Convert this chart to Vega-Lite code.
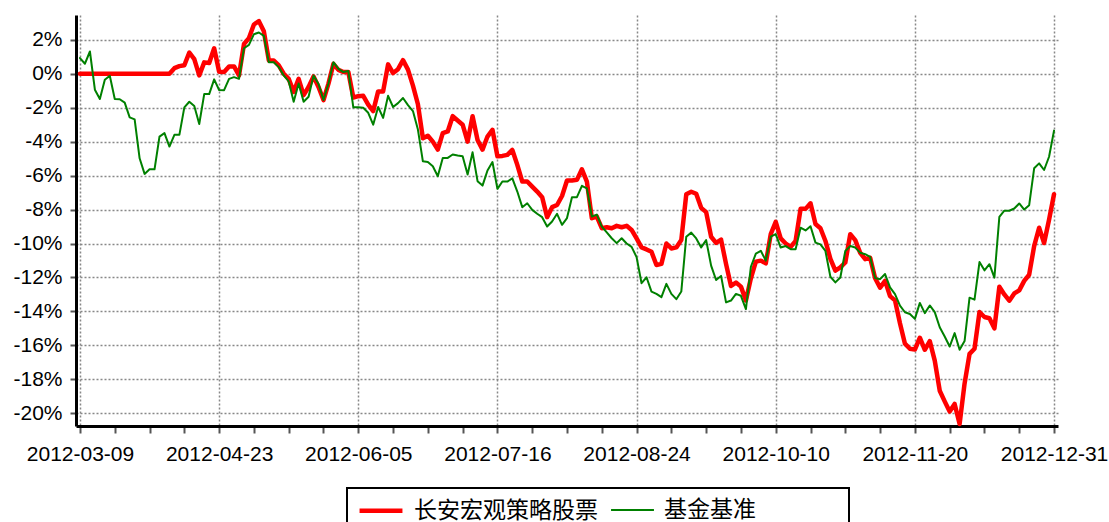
{
  "$schema": "https://vega.github.io/schema/vega-lite/v6.json",
  "width": 982,
  "height": 411,
  "autosize": "none",
  "padding": {"left": 76, "top": 15, "right": 51, "bottom": 96},
  "background": "white",
  "config": {"view": {"stroke": null}, "font": "Liberation Sans"},
  "data": {"values": [
    {"date":"2012-03-09","series":"长安宏观策略股票","value":0},
    {"date":"2012-03-12","series":"长安宏观策略股票","value":0},
    {"date":"2012-03-13","series":"长安宏观策略股票","value":0},
    {"date":"2012-03-14","series":"长安宏观策略股票","value":0},
    {"date":"2012-03-15","series":"长安宏观策略股票","value":0},
    {"date":"2012-03-16","series":"长安宏观策略股票","value":0},
    {"date":"2012-03-19","series":"长安宏观策略股票","value":0},
    {"date":"2012-03-20","series":"长安宏观策略股票","value":0},
    {"date":"2012-03-21","series":"长安宏观策略股票","value":0},
    {"date":"2012-03-22","series":"长安宏观策略股票","value":0},
    {"date":"2012-03-23","series":"长安宏观策略股票","value":0},
    {"date":"2012-03-26","series":"长安宏观策略股票","value":0},
    {"date":"2012-03-27","series":"长安宏观策略股票","value":0},
    {"date":"2012-03-28","series":"长安宏观策略股票","value":0},
    {"date":"2012-03-29","series":"长安宏观策略股票","value":0},
    {"date":"2012-03-30","series":"长安宏观策略股票","value":0},
    {"date":"2012-04-05","series":"长安宏观策略股票","value":0},
    {"date":"2012-04-06","series":"长安宏观策略股票","value":0},
    {"date":"2012-04-09","series":"长安宏观策略股票","value":0},
    {"date":"2012-04-10","series":"长安宏观策略股票","value":0.33},
    {"date":"2012-04-11","series":"长安宏观策略股票","value":0.45},
    {"date":"2012-04-12","series":"长安宏观策略股票","value":0.5},
    {"date":"2012-04-13","series":"长安宏观策略股票","value":1.25},
    {"date":"2012-04-16","series":"长安宏观策略股票","value":0.86},
    {"date":"2012-04-17","series":"长安宏观策略股票","value":-0.1},
    {"date":"2012-04-18","series":"长安宏观策略股票","value":0.67},
    {"date":"2012-04-19","series":"长安宏观策略股票","value":0.63},
    {"date":"2012-04-20","series":"长安宏观策略股票","value":1.5},
    {"date":"2012-04-23","series":"长安宏观策略股票","value":0.12},
    {"date":"2012-04-24","series":"长安宏观策略股票","value":0.1},
    {"date":"2012-04-25","series":"长安宏观策略股票","value":0.43},
    {"date":"2012-04-26","series":"长安宏观策略股票","value":0.43},
    {"date":"2012-04-27","series":"长安宏观策略股票","value":-0.1},
    {"date":"2012-05-02","series":"长安宏观策略股票","value":1.75},
    {"date":"2012-05-03","series":"长安宏观策略股票","value":2.1},
    {"date":"2012-05-04","series":"长安宏观策略股票","value":2.9},
    {"date":"2012-05-07","series":"长安宏观策略股票","value":3.1},
    {"date":"2012-05-08","series":"长安宏观策略股票","value":2.5},
    {"date":"2012-05-09","series":"长安宏观策略股票","value":0.78},
    {"date":"2012-05-10","series":"长安宏观策略股票","value":0.78},
    {"date":"2012-05-11","series":"长安宏观策略股票","value":0.49},
    {"date":"2012-05-14","series":"长安宏观策略股票","value":0},
    {"date":"2012-05-15","series":"长安宏观策略股票","value":-0.3},
    {"date":"2012-05-16","series":"长安宏观策略股票","value":-1.07},
    {"date":"2012-05-17","series":"长安宏观策略股票","value":-0.3},
    {"date":"2012-05-18","series":"长安宏观策略股票","value":-1.26},
    {"date":"2012-05-21","series":"长安宏观策略股票","value":-0.78},
    {"date":"2012-05-22","series":"长安宏观策略股票","value":-0.16},
    {"date":"2012-05-23","series":"长安宏观策略股票","value":-0.78},
    {"date":"2012-05-24","series":"长安宏观策略股票","value":-1.55},
    {"date":"2012-05-25","series":"长安宏观策略股票","value":-0.58},
    {"date":"2012-05-28","series":"长安宏观策略股票","value":0.58},
    {"date":"2012-05-29","series":"长安宏观策略股票","value":0.23},
    {"date":"2012-05-30","series":"长安宏观策略股票","value":0.1},
    {"date":"2012-05-31","series":"长安宏观策略股票","value":0.1},
    {"date":"2012-06-01","series":"长安宏观策略股票","value":-1.4},
    {"date":"2012-06-05","series":"长安宏观策略股票","value":-1.32},
    {"date":"2012-06-06","series":"长安宏观策略股票","value":-1.3},
    {"date":"2012-06-07","series":"长安宏观策略股票","value":-1.82},
    {"date":"2012-06-08","series":"长安宏观策略股票","value":-2.2},
    {"date":"2012-06-11","series":"长安宏观策略股票","value":-1.04},
    {"date":"2012-06-12","series":"长安宏观策略股票","value":-1.04},
    {"date":"2012-06-13","series":"长安宏观策略股票","value":0.55},
    {"date":"2012-06-14","series":"长安宏观策略股票","value":0.04},
    {"date":"2012-06-15","series":"长安宏观策略股票","value":0.27},
    {"date":"2012-06-18","series":"长安宏观策略股票","value":0.8},
    {"date":"2012-06-19","series":"长安宏观策略股票","value":0.24},
    {"date":"2012-06-20","series":"长安宏观策略股票","value":-0.7},
    {"date":"2012-06-21","series":"长安宏观策略股票","value":-1.8},
    {"date":"2012-06-25","series":"长安宏观策略股票","value":-3.8},
    {"date":"2012-06-26","series":"长安宏观策略股票","value":-3.65},
    {"date":"2012-06-27","series":"长安宏观策略股票","value":-4.0},
    {"date":"2012-06-28","series":"长安宏观策略股票","value":-4.47},
    {"date":"2012-06-29","series":"长安宏观策略股票","value":-3.5},
    {"date":"2012-07-02","series":"长安宏观策略股票","value":-3.4},
    {"date":"2012-07-03","series":"长安宏观策略股票","value":-2.5},
    {"date":"2012-07-04","series":"长安宏观策略股票","value":-2.75},
    {"date":"2012-07-05","series":"长安宏观策略股票","value":-3.0},
    {"date":"2012-07-06","series":"长安宏观策略股票","value":-4.0},
    {"date":"2012-07-09","series":"长安宏观策略股票","value":-2.5},
    {"date":"2012-07-10","series":"长安宏观策略股票","value":-3.9},
    {"date":"2012-07-11","series":"长安宏观策略股票","value":-4.47},
    {"date":"2012-07-12","series":"长安宏观策略股票","value":-3.7},
    {"date":"2012-07-13","series":"长安宏观策略股票","value":-3.3},
    {"date":"2012-07-16","series":"长安宏观策略股票","value":-4.86},
    {"date":"2012-07-17","series":"长安宏观策略股票","value":-4.84},
    {"date":"2012-07-18","series":"长安宏观策略股票","value":-4.78},
    {"date":"2012-07-19","series":"长安宏观策略股票","value":-4.49},
    {"date":"2012-07-23","series":"长安宏观策略股票","value":-5.37},
    {"date":"2012-07-24","series":"长安宏观策略股票","value":-6.35},
    {"date":"2012-07-25","series":"长安宏观策略股票","value":-6.35},
    {"date":"2012-07-26","series":"长安宏观策略股票","value":-6.65},
    {"date":"2012-07-27","series":"长安宏观策略股票","value":-6.94},
    {"date":"2012-07-30","series":"长安宏观策略股票","value":-7.27},
    {"date":"2012-07-31","series":"长安宏观策略股票","value":-8.45},
    {"date":"2012-08-01","series":"长安宏观策略股票","value":-7.86},
    {"date":"2012-08-02","series":"长安宏观策略股票","value":-7.73},
    {"date":"2012-08-03","series":"长安宏观策略股票","value":-7.2},
    {"date":"2012-08-06","series":"长安宏观策略股票","value":-6.29},
    {"date":"2012-08-07","series":"长安宏观策略股票","value":-6.29},
    {"date":"2012-08-08","series":"长安宏观策略股票","value":-6.25},
    {"date":"2012-08-09","series":"长安宏观策略股票","value":-5.63},
    {"date":"2012-08-10","series":"长安宏观策略股票","value":-6.35},
    {"date":"2012-08-13","series":"长安宏观策略股票","value":-8.51},
    {"date":"2012-08-14","series":"长安宏观策略股票","value":-8.41},
    {"date":"2012-08-15","series":"长安宏观策略股票","value":-9.1},
    {"date":"2012-08-16","series":"长安宏观策略股票","value":-9.04},
    {"date":"2012-08-17","series":"长安宏观策略股票","value":-9.1},
    {"date":"2012-08-20","series":"长安宏观策略股票","value":-8.96},
    {"date":"2012-08-21","series":"长安宏观策略股票","value":-9.04},
    {"date":"2012-08-22","series":"长安宏观策略股票","value":-8.96},
    {"date":"2012-08-23","series":"长安宏观策略股票","value":-9.2},
    {"date":"2012-08-24","series":"长安宏观策略股票","value":-9.7},
    {"date":"2012-08-27","series":"长安宏观策略股票","value":-10.23},
    {"date":"2012-08-28","series":"长安宏观策略股票","value":-10.35},
    {"date":"2012-08-29","series":"长安宏观策略股票","value":-10.49},
    {"date":"2012-08-30","series":"长安宏观策略股票","value":-11.27},
    {"date":"2012-08-31","series":"长安宏观策略股票","value":-11.2},
    {"date":"2012-09-03","series":"长安宏观策略股票","value":-10.0},
    {"date":"2012-09-04","series":"长安宏观策略股票","value":-10.29},
    {"date":"2012-09-05","series":"长安宏观策略股票","value":-10.23},
    {"date":"2012-09-06","series":"长安宏观策略股票","value":-9.8},
    {"date":"2012-09-07","series":"长安宏观策略股票","value":-7.1},
    {"date":"2012-09-10","series":"长安宏观策略股票","value":-6.95},
    {"date":"2012-09-11","series":"长安宏观策略股票","value":-7.07},
    {"date":"2012-09-12","series":"长安宏观策略股票","value":-7.9},
    {"date":"2012-09-13","series":"长安宏观策略股票","value":-8.15},
    {"date":"2012-09-14","series":"长安宏观策略股票","value":-9.6},
    {"date":"2012-09-17","series":"长安宏观策略股票","value":-9.96},
    {"date":"2012-09-18","series":"长安宏观策略股票","value":-9.77},
    {"date":"2012-09-19","series":"长安宏观策略股票","value":-11.2},
    {"date":"2012-09-20","series":"长安宏观策略股票","value":-12.5},
    {"date":"2012-09-21","series":"长安宏观策略股票","value":-12.3},
    {"date":"2012-09-24","series":"长安宏观策略股票","value":-12.54},
    {"date":"2012-09-25","series":"长安宏观策略股票","value":-13.36},
    {"date":"2012-09-26","series":"长安宏观策略股票","value":-12.05},
    {"date":"2012-09-27","series":"长安宏观策略股票","value":-11.07},
    {"date":"2012-09-28","series":"长安宏观策略股票","value":-11.01},
    {"date":"2012-10-08","series":"长安宏观策略股票","value":-11.17},
    {"date":"2012-10-09","series":"长安宏观策略股票","value":-9.45},
    {"date":"2012-10-10","series":"长安宏观策略股票","value":-8.73},
    {"date":"2012-10-12","series":"长安宏观策略股票","value":-9.7},
    {"date":"2012-10-15","series":"长安宏观策略股票","value":-10.0},
    {"date":"2012-10-16","series":"长安宏观策略股票","value":-10.2},
    {"date":"2012-10-17","series":"长安宏观策略股票","value":-9.85},
    {"date":"2012-10-18","series":"长安宏观策略股票","value":-7.96},
    {"date":"2012-10-19","series":"长安宏观策略股票","value":-7.96},
    {"date":"2012-10-22","series":"长安宏观策略股票","value":-7.63},
    {"date":"2012-10-23","series":"长安宏观策略股票","value":-8.85},
    {"date":"2012-10-24","series":"长安宏观策略股票","value":-9.1},
    {"date":"2012-10-25","series":"长安宏观策略股票","value":-9.85},
    {"date":"2012-10-26","series":"长安宏观策略股票","value":-10.9},
    {"date":"2012-10-29","series":"长安宏观策略股票","value":-11.6},
    {"date":"2012-10-30","series":"长安宏观策略股票","value":-11.41},
    {"date":"2012-10-31","series":"长安宏观策略股票","value":-11.12},
    {"date":"2012-11-01","series":"长安宏观策略股票","value":-9.45},
    {"date":"2012-11-02","series":"长安宏观策略股票","value":-9.8},
    {"date":"2012-11-05","series":"长安宏观策略股票","value":-10.55},
    {"date":"2012-11-06","series":"长安宏观策略股票","value":-10.92},
    {"date":"2012-11-07","series":"长安宏观策略股票","value":-10.84},
    {"date":"2012-11-08","series":"长安宏观策略股票","value":-12.05},
    {"date":"2012-11-09","series":"长安宏观策略股票","value":-12.6},
    {"date":"2012-11-12","series":"长安宏观策略股票","value":-12.2},
    {"date":"2012-11-13","series":"长安宏观策略股票","value":-13.1},
    {"date":"2012-11-14","series":"长安宏观策略股票","value":-13.35},
    {"date":"2012-11-15","series":"长安宏观策略股票","value":-14.7},
    {"date":"2012-11-16","series":"长安宏观策略股票","value":-15.9},
    {"date":"2012-11-19","series":"长安宏观策略股票","value":-16.2},
    {"date":"2012-11-20","series":"长安宏观策略股票","value":-16.25},
    {"date":"2012-11-22","series":"长安宏观策略股票","value":-15.55},
    {"date":"2012-11-23","series":"长安宏观策略股票","value":-16.26},
    {"date":"2012-11-26","series":"长安宏观策略股票","value":-15.75},
    {"date":"2012-11-27","series":"长安宏观策略股票","value":-16.9},
    {"date":"2012-11-28","series":"长安宏观策略股票","value":-18.67},
    {"date":"2012-11-29","series":"长安宏观策略股票","value":-19.3},
    {"date":"2012-11-30","series":"长安宏观策略股票","value":-19.9},
    {"date":"2012-12-03","series":"长安宏观策略股票","value":-19.45},
    {"date":"2012-12-04","series":"长安宏观策略股票","value":-20.63},
    {"date":"2012-12-05","series":"长安宏观策略股票","value":-18.25},
    {"date":"2012-12-06","series":"长安宏观策略股票","value":-16.5},
    {"date":"2012-12-07","series":"长安宏观策略股票","value":-16.2},
    {"date":"2012-12-10","series":"长安宏观策略股票","value":-14.04},
    {"date":"2012-12-11","series":"长安宏观策略股票","value":-14.33},
    {"date":"2012-12-12","series":"长安宏观策略股票","value":-14.4},
    {"date":"2012-12-13","series":"长安宏观策略股票","value":-15.0},
    {"date":"2012-12-14","series":"长安宏观策略股票","value":-12.55},
    {"date":"2012-12-17","series":"长安宏观策略股票","value":-13.0},
    {"date":"2012-12-18","series":"长安宏观策略股票","value":-13.37},
    {"date":"2012-12-19","series":"长安宏观策略股票","value":-12.94},
    {"date":"2012-12-20","series":"长安宏观策略股票","value":-12.76},
    {"date":"2012-12-21","series":"长安宏观策略股票","value":-12.2},
    {"date":"2012-12-24","series":"长安宏观策略股票","value":-11.84},
    {"date":"2012-12-25","series":"长安宏观策略股票","value":-10.15},
    {"date":"2012-12-26","series":"长安宏观策略股票","value":-9.07},
    {"date":"2012-12-27","series":"长安宏观策略股票","value":-9.97},
    {"date":"2012-12-28","series":"长安宏观策略股票","value":-8.6},
    {"date":"2012-12-31","series":"长安宏观策略股票","value":-7.1},
    {"date":"2012-03-09","series":"基金基准","value":0.92},
    {"date":"2012-03-12","series":"基金基准","value":0.59},
    {"date":"2012-03-13","series":"基金基准","value":1.31},
    {"date":"2012-03-14","series":"基金基准","value":-0.94},
    {"date":"2012-03-15","series":"基金基准","value":-1.49},
    {"date":"2012-03-16","series":"基金基准","value":-0.35},
    {"date":"2012-03-19","series":"基金基准","value":-0.12},
    {"date":"2012-03-20","series":"基金基准","value":-1.49},
    {"date":"2012-03-21","series":"基金基准","value":-1.5},
    {"date":"2012-03-22","series":"基金基准","value":-1.7},
    {"date":"2012-03-23","series":"基金基准","value":-2.57},
    {"date":"2012-03-26","series":"基金基准","value":-2.69},
    {"date":"2012-03-27","series":"基金基准","value":-4.98},
    {"date":"2012-03-28","series":"基金基准","value":-5.9},
    {"date":"2012-03-29","series":"基金基准","value":-5.63},
    {"date":"2012-03-30","series":"基金基准","value":-5.63},
    {"date":"2012-04-05","series":"基金基准","value":-3.7},
    {"date":"2012-04-06","series":"基金基准","value":-3.5},
    {"date":"2012-04-09","series":"基金基准","value":-4.29},
    {"date":"2012-04-10","series":"基金基准","value":-3.6},
    {"date":"2012-04-11","series":"基金基准","value":-3.6},
    {"date":"2012-04-12","series":"基金基准","value":-1.98},
    {"date":"2012-04-13","series":"基金基准","value":-1.65},
    {"date":"2012-04-16","series":"基金基准","value":-1.9},
    {"date":"2012-04-17","series":"基金基准","value":-2.96},
    {"date":"2012-04-18","series":"基金基准","value":-1.2},
    {"date":"2012-04-19","series":"基金基准","value":-1.2},
    {"date":"2012-04-20","series":"基金基准","value":-0.33},
    {"date":"2012-04-23","series":"基金基准","value":-0.96},
    {"date":"2012-04-24","series":"基金基准","value":-0.97},
    {"date":"2012-04-25","series":"基金基准","value":-0.3},
    {"date":"2012-04-26","series":"基金基准","value":-0.2},
    {"date":"2012-04-27","series":"基金基准","value":-0.3},
    {"date":"2012-05-02","series":"基金基准","value":1.5},
    {"date":"2012-05-03","series":"基金基准","value":1.7},
    {"date":"2012-05-04","series":"基金基准","value":2.33},
    {"date":"2012-05-07","series":"基金基准","value":2.43},
    {"date":"2012-05-08","series":"基金基准","value":2.23},
    {"date":"2012-05-09","series":"基金基准","value":0.68},
    {"date":"2012-05-10","series":"基金基准","value":0.68},
    {"date":"2012-05-11","series":"基金基准","value":0.39},
    {"date":"2012-05-14","series":"基金基准","value":-0.1},
    {"date":"2012-05-15","series":"基金基准","value":-0.45},
    {"date":"2012-05-16","series":"基金基准","value":-1.65},
    {"date":"2012-05-17","series":"基金基准","value":-0.58},
    {"date":"2012-05-18","series":"基金基准","value":-1.65},
    {"date":"2012-05-21","series":"基金基准","value":-1.36},
    {"date":"2012-05-22","series":"基金基准","value":-0.1},
    {"date":"2012-05-23","series":"基金基准","value":-0.6},
    {"date":"2012-05-24","series":"基金基准","value":-1.55},
    {"date":"2012-05-25","series":"基金基准","value":-0.58},
    {"date":"2012-05-28","series":"基金基准","value":0.68},
    {"date":"2012-05-29","series":"基金基准","value":0.29},
    {"date":"2012-05-30","series":"基金基准","value":0.1},
    {"date":"2012-05-31","series":"基金基准","value":0.16},
    {"date":"2012-06-01","series":"基金基准","value":-1.98},
    {"date":"2012-06-05","series":"基金基准","value":-1.98},
    {"date":"2012-06-06","series":"基金基准","value":-2.0},
    {"date":"2012-06-07","series":"基金基准","value":-2.3},
    {"date":"2012-06-08","series":"基金基准","value":-3.0},
    {"date":"2012-06-11","series":"基金基准","value":-1.96},
    {"date":"2012-06-12","series":"基金基准","value":-2.6},
    {"date":"2012-06-13","series":"基金基准","value":-1.3},
    {"date":"2012-06-14","series":"基金基准","value":-1.96},
    {"date":"2012-06-15","series":"基金基准","value":-1.73},
    {"date":"2012-06-18","series":"基金基准","value":-1.43},
    {"date":"2012-06-19","series":"基金基准","value":-1.85},
    {"date":"2012-06-20","series":"基金基准","value":-2.2},
    {"date":"2012-06-21","series":"基金基准","value":-3.29},
    {"date":"2012-06-25","series":"基金基准","value":-5.16},
    {"date":"2012-06-26","series":"基金基准","value":-5.2},
    {"date":"2012-06-27","series":"基金基准","value":-5.45},
    {"date":"2012-06-28","series":"基金基准","value":-6.04},
    {"date":"2012-06-29","series":"基金基准","value":-4.96},
    {"date":"2012-07-02","series":"基金基准","value":-4.96},
    {"date":"2012-07-03","series":"基金基准","value":-4.76},
    {"date":"2012-07-04","series":"基金基准","value":-4.82},
    {"date":"2012-07-05","series":"基金基准","value":-4.86},
    {"date":"2012-07-06","series":"基金基准","value":-5.94},
    {"date":"2012-07-09","series":"基金基准","value":-4.63},
    {"date":"2012-07-10","series":"基金基准","value":-6.33},
    {"date":"2012-07-11","series":"基金基准","value":-6.59},
    {"date":"2012-07-12","series":"基金基准","value":-5.7},
    {"date":"2012-07-13","series":"基金基准","value":-5.2},
    {"date":"2012-07-16","series":"基金基准","value":-6.78},
    {"date":"2012-07-17","series":"基金基准","value":-6.35},
    {"date":"2012-07-18","series":"基金基准","value":-6.35},
    {"date":"2012-07-19","series":"基金基准","value":-6.16},
    {"date":"2012-07-23","series":"基金基准","value":-6.94},
    {"date":"2012-07-24","series":"基金基准","value":-7.86},
    {"date":"2012-07-25","series":"基金基准","value":-7.63},
    {"date":"2012-07-26","series":"基金基准","value":-8.02},
    {"date":"2012-07-27","series":"基金基准","value":-8.25},
    {"date":"2012-07-30","series":"基金基准","value":-8.45},
    {"date":"2012-07-31","series":"基金基准","value":-9.0},
    {"date":"2012-08-01","series":"基金基准","value":-8.7},
    {"date":"2012-08-02","series":"基金基准","value":-8.25},
    {"date":"2012-08-03","series":"基金基准","value":-8.9},
    {"date":"2012-08-06","series":"基金基准","value":-8.5},
    {"date":"2012-08-07","series":"基金基准","value":-7.27},
    {"date":"2012-08-08","series":"基金基准","value":-7.27},
    {"date":"2012-08-09","series":"基金基准","value":-6.6},
    {"date":"2012-08-10","series":"基金基准","value":-6.75},
    {"date":"2012-08-13","series":"基金基准","value":-8.41},
    {"date":"2012-08-14","series":"基金基准","value":-8.3},
    {"date":"2012-08-15","series":"基金基准","value":-9.0},
    {"date":"2012-08-16","series":"基金基准","value":-9.35},
    {"date":"2012-08-17","series":"基金基准","value":-9.69},
    {"date":"2012-08-20","series":"基金基准","value":-9.98},
    {"date":"2012-08-21","series":"基金基准","value":-9.69},
    {"date":"2012-08-22","series":"基金基准","value":-10.0},
    {"date":"2012-08-23","series":"基金基准","value":-10.2},
    {"date":"2012-08-24","series":"基金基准","value":-10.8},
    {"date":"2012-08-27","series":"基金基准","value":-12.34},
    {"date":"2012-08-28","series":"基金基准","value":-11.99},
    {"date":"2012-08-29","series":"基金基准","value":-12.83},
    {"date":"2012-08-30","series":"基金基准","value":-12.97},
    {"date":"2012-08-31","series":"基金基准","value":-13.16},
    {"date":"2012-09-03","series":"基金基准","value":-12.38},
    {"date":"2012-09-04","series":"基金基准","value":-12.97},
    {"date":"2012-09-05","series":"基金基准","value":-13.28},
    {"date":"2012-09-06","series":"基金基准","value":-12.83},
    {"date":"2012-09-07","series":"基金基准","value":-9.6},
    {"date":"2012-09-10","series":"基金基准","value":-9.36},
    {"date":"2012-09-11","series":"基金基准","value":-9.7},
    {"date":"2012-09-12","series":"基金基准","value":-10.23},
    {"date":"2012-09-13","series":"基金基准","value":-9.8},
    {"date":"2012-09-14","series":"基金基准","value":-11.3},
    {"date":"2012-09-17","series":"基金基准","value":-12.15},
    {"date":"2012-09-18","series":"基金基准","value":-11.91},
    {"date":"2012-09-19","series":"基金基准","value":-13.47},
    {"date":"2012-09-20","series":"基金基准","value":-13.36},
    {"date":"2012-09-21","series":"基金基准","value":-12.97},
    {"date":"2012-09-24","series":"基金基准","value":-13.08},
    {"date":"2012-09-25","series":"基金基准","value":-13.86},
    {"date":"2012-09-26","series":"基金基准","value":-11.37},
    {"date":"2012-09-27","series":"基金基准","value":-10.6},
    {"date":"2012-09-28","series":"基金基准","value":-10.43},
    {"date":"2012-10-08","series":"基金基准","value":-11.01},
    {"date":"2012-10-09","series":"基金基准","value":-9.6},
    {"date":"2012-10-10","series":"基金基准","value":-9.45},
    {"date":"2012-10-12","series":"基金基准","value":-10.24},
    {"date":"2012-10-15","series":"基金基准","value":-10.15},
    {"date":"2012-10-16","series":"基金基准","value":-10.34},
    {"date":"2012-10-17","series":"基金基准","value":-10.34},
    {"date":"2012-10-18","series":"基金基准","value":-9.07},
    {"date":"2012-10-19","series":"基金基准","value":-9.23},
    {"date":"2012-10-22","series":"基金基准","value":-8.98},
    {"date":"2012-10-23","series":"基金基准","value":-9.95},
    {"date":"2012-10-24","series":"基金基准","value":-10.05},
    {"date":"2012-10-25","series":"基金基准","value":-10.44},
    {"date":"2012-10-26","series":"基金基准","value":-11.96},
    {"date":"2012-10-29","series":"基金基准","value":-12.29},
    {"date":"2012-10-30","series":"基金基准","value":-12.0},
    {"date":"2012-10-31","series":"基金基准","value":-10.44},
    {"date":"2012-11-01","series":"基金基准","value":-10.15},
    {"date":"2012-11-02","series":"基金基准","value":-10.24},
    {"date":"2012-11-05","series":"基金基准","value":-10.54},
    {"date":"2012-11-06","series":"基金基准","value":-10.63},
    {"date":"2012-11-07","series":"基金基准","value":-10.79},
    {"date":"2012-11-08","series":"基金基准","value":-12.04},
    {"date":"2012-11-09","series":"基金基准","value":-12.1},
    {"date":"2012-11-12","series":"基金基准","value":-11.8},
    {"date":"2012-11-13","series":"基金基准","value":-12.59},
    {"date":"2012-11-14","series":"基金基准","value":-12.98},
    {"date":"2012-11-15","series":"基金基准","value":-13.66},
    {"date":"2012-11-16","series":"基金基准","value":-14.05},
    {"date":"2012-11-19","series":"基金基准","value":-14.15},
    {"date":"2012-11-20","series":"基金基准","value":-14.44},
    {"date":"2012-11-22","series":"基金基准","value":-13.5},
    {"date":"2012-11-23","series":"基金基准","value":-14.1},
    {"date":"2012-11-26","series":"基金基准","value":-13.65},
    {"date":"2012-11-27","series":"基金基准","value":-14.04},
    {"date":"2012-11-28","series":"基金基准","value":-14.93},
    {"date":"2012-11-29","series":"基金基准","value":-15.48},
    {"date":"2012-11-30","series":"基金基准","value":-16.07},
    {"date":"2012-12-03","series":"基金基准","value":-15.28},
    {"date":"2012-12-04","series":"基金基准","value":-16.26},
    {"date":"2012-12-05","series":"基金基准","value":-15.75},
    {"date":"2012-12-06","series":"基金基准","value":-13.19},
    {"date":"2012-12-07","series":"基金基准","value":-13.31},
    {"date":"2012-12-10","series":"基金基准","value":-11.09},
    {"date":"2012-12-11","series":"基金基准","value":-11.58},
    {"date":"2012-12-12","series":"基金基准","value":-11.22},
    {"date":"2012-12-13","series":"基金基准","value":-12.01},
    {"date":"2012-12-14","series":"基金基准","value":-8.43},
    {"date":"2012-12-17","series":"基金基准","value":-8.07},
    {"date":"2012-12-18","series":"基金基准","value":-8.07},
    {"date":"2012-12-19","series":"基金基准","value":-7.94},
    {"date":"2012-12-20","series":"基金基准","value":-7.64},
    {"date":"2012-12-21","series":"基金基准","value":-8.0},
    {"date":"2012-12-24","series":"基金基准","value":-7.74},
    {"date":"2012-12-25","series":"基金基准","value":-5.57},
    {"date":"2012-12-26","series":"基金基准","value":-5.28},
    {"date":"2012-12-27","series":"基金基准","value":-5.67},
    {"date":"2012-12-28","series":"基金基准","value":-4.89},
    {"date":"2012-12-31","series":"基金基准","value":-3.35}
  ]},
  "mark": {"type": "line", "strokeJoin": "round", "strokeCap": "round"},
  "encoding": {
    "x": {
      "field": "date", "type": "ordinal",
      "scale": {"type": "point", "padding": 0.8},
      "axis": {
        "title": null,
        "values": ["2012-03-09","2012-03-20","2012-03-29","2012-04-12","2012-04-23","2012-05-04","2012-05-15","2012-05-24","2012-06-05","2012-06-14","2012-06-26","2012-07-05","2012-07-16","2012-07-26","2012-08-06","2012-08-15","2012-08-24","2012-09-04","2012-09-13","2012-09-24","2012-10-10","2012-10-22","2012-10-31","2012-11-09","2012-11-20","2012-11-30","2012-12-11","2012-12-20","2012-12-31"],
        "labelExpr": "indexof(['2012-03-09','2012-04-23','2012-06-05','2012-07-16','2012-08-24','2012-10-10','2012-11-20','2012-12-31'], datum.value) >= 0 ? datum.value : ''",
        "labelAngle": 0,
        "labelFont": "Liberation Sans",
        "labelFontSize": 21,
        "labelColor": "black",
        "labelPadding": 10,
        "labelOverlap": false,
        "labelFlush": false,
        "labelBound": false,
        "domainColor": "black",
        "domainWidth": 3,
        "tickColor": "#555555",
        "tickWidth": 2,
        "tickSize": 7,
        "grid": true,
        "gridColor": "#888888",
        "gridDash": [2, 2],
        "gridWidth": 1.5,
        "gridOpacity": {"condition": {"test": "indexof(['2012-03-09','2012-04-23','2012-06-05','2012-07-16','2012-08-24','2012-10-10','2012-11-20','2012-12-31'], datum.value) >= 0", "value": 1}, "value": 0}
      }
    },
    "y": {
      "field": "value", "type": "quantitative",
      "scale": {"domain": [-20.75, 3.46], "nice": false, "zero": false},
      "axis": {
        "title": null,
        "values": [-20, -18, -16, -14, -12, -10, -8, -6, -4, -2, 0, 2],
        "labelExpr": "datum.value + '%'",
        "labelFont": "Liberation Sans",
        "labelFontSize": 21,
        "labelColor": "black",
        "labelPadding": 8,
        "domainColor": "black",
        "domainWidth": 3,
        "tickColor": "#555555",
        "tickWidth": 2,
        "tickSize": 6,
        "grid": true,
        "gridColor": "#888888",
        "gridDash": [2, 2],
        "gridWidth": 1.5
      }
    },
    "color": {
      "field": "series", "type": "nominal",
      "scale": {"domain": ["长安宏观策略股票", "基金基准"], "range": ["#ff0000", "#008000"]},
      "legend": {
        "orient": "none",
        "legendX": 271,
        "legendY": 473,
        "direction": "horizontal",
        "title": " ",
        "titleOrient": "right",
        "titlePadding": 88,
        "strokeColor": "black",
        "fillColor": "white",
        "padding": 5,
        "symbolOffset": 11.5,
        "symbolType": "M-1.43,0L1.43,0",
        "symbolSize": 900,
        "labelFont": "Noto Sans CJK SC",
        "labelFontSize": 23,
        "labelColor": "black",
        "labelOffset": 15.5,
        "columnPadding": 7,
        "labelLimit": 400,
        "encode": {
          "legend": {"update": {"strokeWidth": {"value": 2}}},
          "symbols": {"update": {"strokeWidth": {"signal": "datum.value === '基金基准' ? 2.5 : 5"}, "fill": {"value": "transparent"}}}
        }
      }
    },
    "strokeWidth": {
      "field": "series", "type": "nominal",
      "scale": {"domain": ["长安宏观策略股票", "基金基准"], "range": [4.5, 2]},
      "legend": null
    }
  }
}
